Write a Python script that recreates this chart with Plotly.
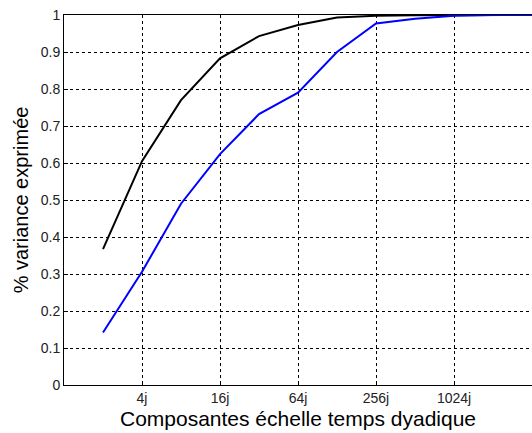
import plotly.graph_objects as go

scales = [2, 4, 8, 16, 32, 64, 128, 256, 512, 1024, 2048, 4096]
black_vals = [0.367, 0.605, 0.77, 0.883, 0.943, 0.973, 0.993, 0.998, 0.999, 1.0, 1.0, 1.0]
blue_vals = [0.142, 0.306, 0.49, 0.624, 0.732, 0.79, 0.90, 0.977, 0.99, 0.998, 1.0, 1.0]
x_tickvals = [4, 16, 64, 256, 1024]
x_ticktext = ["4j", "16j", "64j", "256j", "1024j"]
y_tickvals = [0, 0.1, 0.2, 0.3, 0.4, 0.5, 0.6, 0.7, 0.8, 0.9, 1]
y_ticktext = ["0", "0.1", "0.2", "0.3", "0.4", "0.5", "0.6", "0.7", "0.8", "0.9", "1"]

fig = go.Figure()
fig.add_trace(go.Scatter(x=scales, y=black_vals, mode="lines",
                         line=dict(color="black", width=2), showlegend=False))
fig.add_trace(go.Scatter(x=scales, y=blue_vals, mode="lines",
                         line=dict(color="#0000ff", width=2), showlegend=False))

font = "Liberation Sans, Arial, sans-serif"
fig.update_layout(
    width=532, height=433,
    margin=dict(l=64, r=0, t=15, b=48, autoexpand=False),
    paper_bgcolor="white", plot_bgcolor="white",
    font=dict(family=font, color="black", size=14),
    xaxis=dict(type="log", range=[0, 3.6123599966], tickvals=x_tickvals, ticktext=x_ticktext,
               showgrid=True, gridcolor="black", griddash="3px,3px", gridwidth=1,
               showline=True, linecolor="black", linewidth=1, mirror=True,
               ticks="inside", ticklen=4, tickcolor="black", zeroline=False, automargin=False,
               title=dict(text="Composantes échelle temps dyadique", font=dict(size=21), standoff=6),
               tickfont=dict(size=14, color="#222"), ticklabeloverflow="allow"),
    yaxis=dict(range=[0, 1], tickvals=y_tickvals, ticktext=y_ticktext,
               showgrid=True, gridcolor="black", griddash="3px,3px", gridwidth=1,
               showline=True, linecolor="black", linewidth=1, mirror=False,
               ticks="inside", ticklen=4, tickcolor="black", zeroline=False, automargin=False,
               title=dict(text="% variance exprimée", font=dict(size=20), standoff=6),
               tickfont=dict(size=14, color="#222"), ticklabeloverflow="allow"),
)
fig.write_html("out.html", config={"displayModeBar": False},
               post_script="document.body.style.margin='0';document.body.style.overflow='hidden';")
